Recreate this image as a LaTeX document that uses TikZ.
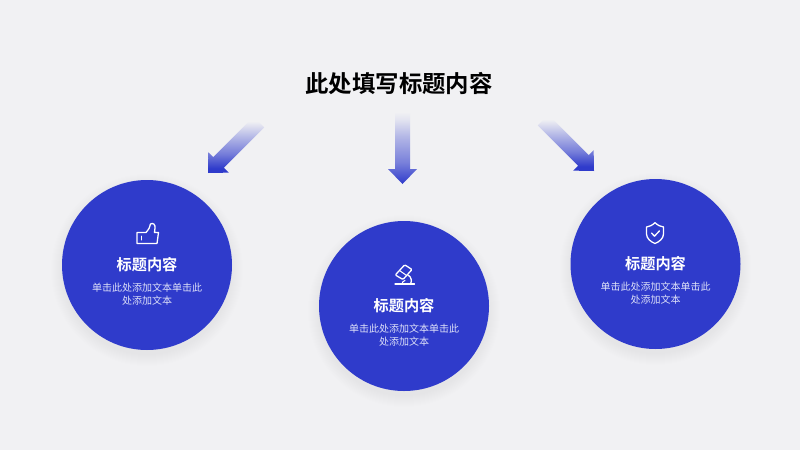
\documentclass[tikz,border=0pt]{standalone}
\usepackage{fontspec}
\setmainfont{Noto Sans CJK SC}
\newfontfamily\cjkbold{Noto Sans CJK SC Bold}
\definecolor{bgc}{HTML}{F1F1F3}
\definecolor{bluec}{HTML}{2F3BCB}
\definecolor{bodyc}{HTML}{DDE0F8}
\pgfdeclareverticalshading{fadearrow}{100bp}{%
  color(0bp)=(bluec); color(25bp)=(bluec); color(40bp)=(bluec!62!bgc);
  color(58bp)=(bluec!32!bgc); color(70bp)=(bluec!7!bgc); color(75bp)=(bgc); color(100bp)=(bgc)}
\pgfdeclareverticalshading{fadearrowdiag}{100bp}{%
  color(0bp)=(bluec); color(29bp)=(bluec); color(42bp)=(bluec!64!bgc);
  color(56bp)=(bluec!34!bgc); color(67bp)=(bluec!9!bgc); color(71bp)=(bgc); color(100bp)=(bgc)}
\tikzset{
  x=1pt,y=-1pt,
  disc/.style={circle,fill=bluec,minimum size=170pt,inner sep=0pt,draw=none},
  halo/.style={circle,fill=bluec,fill opacity=0.005,inner sep=0pt,draw=none},
  headtxt/.style={font=\cjkbold\fontsize{23.4pt}{28pt}\selectfont,text=black,inner sep=0pt},
  cardtitle/.style={font=\cjkbold\fontsize{15.2pt}{18pt}\selectfont,text=white,inner sep=0pt},
  cardbody/.style={font=\fontsize{10pt}{13pt}\selectfont,text=bodyc,align=center,inner sep=0pt},
  iconline/.style={draw=white,line width=1.3pt,line join=round,line cap=round,fill=none}
}
\newcommand{\flowarrow}[3]{% tip position, rotation, shading
  \begin{scope}[shift={#1},rotate=#2]
    \shade[shading=#3]
      (-7.5,-72) -- (7.5,-72) -- (7.5,-15) -- (14.5,-15) -- (0,0) -- (-14.5,-15) -- (-7.5,-15) -- cycle;
  \end{scope}}
\newcommand{\softhalo}[1]{%
  \foreach \r in {170,172,...,192}{\node[halo,minimum size=\r pt] at #1 {};}}
\begin{document}
\begin{tikzpicture}
\useasboundingbox (0,0) rectangle (800,450);
\fill[bgc] (0,0) rectangle (800,450);
\node[headtxt] (head) at (399,84) {此处填写标题内容};

\flowarrow{(208,173)}{-45}{fadearrowdiag}
\flowarrow{(402.5,184)}{0}{fadearrow}
\flowarrow{(594,171)}{45}{fadearrowdiag}

\softhalo{(147,270)}
\softhalo{(404,311)}
\softhalo{(655.5,269)}

\node[disc] (c1) at (147,265) {};
\node[disc] (c2) at (404,306) {};
\node[disc] (c3) at (655.5,264) {};

\node[cardtitle] (t1) at (147,265) {标题内容};
\node[cardbody]  (b1) at (147,294) {单击此处添加文本单击此\\处添加文本};
\node[cardtitle] (t2) at (404,306) {标题内容};
\node[cardbody]  (b2) at (404,335) {单击此处添加文本单击此\\处添加文本};
\node[cardtitle] (t3) at (655.5,264) {标题内容};
\node[cardbody]  (b3) at (655.5,293) {单击此处添加文本单击此\\处添加文本};

% thumb icon
\draw[iconline] (137,232.5) -- (146,232.5) .. controls (149,229) and (150,227) .. (150.5,224)
  .. controls (153,222.5) and (155.5,224.5) .. (155,228) -- (154.5,232.5) -- (158.5,232.5)
  -- (157,243.5) -- (137,243.5) -- cycle;
\draw[iconline,line width=1pt] (141.5,236) -- (141.5,240);

% microscope icon
\draw[iconline] (395,284) -- (414.5,284);
\draw[iconline,rounded corners=1pt] (395.3,275) -- (404.7,264.8) -- (412,269.5) -- (403,279.5) -- cycle;
\draw[iconline,line width=1pt] (399.5,270.5) -- (407,275.8);
\draw[iconline] (408,275) .. controls (411.5,277) and (412,281) .. (410.5,284);
\draw[iconline,line width=1pt] (402,284) .. controls (402,282) and (403.5,281) .. (405,280.5);

% shield icon
\draw[iconline] (655,222.7) .. controls (652,225.5) and (649.5,226.5) .. (646.5,227)
  -- (646.5,234) .. controls (646.5,238.5) and (651,242) .. (655,243.5)
  .. controls (659,242) and (663.5,238.5) .. (663.5,234) -- (663.5,227)
  .. controls (660.5,226.5) and (658,225.5) .. (655,222.7) -- cycle;
\draw[iconline] (651.5,233) -- (654.5,236.2) -- (659.5,230.8);
\end{tikzpicture}
\end{document}
